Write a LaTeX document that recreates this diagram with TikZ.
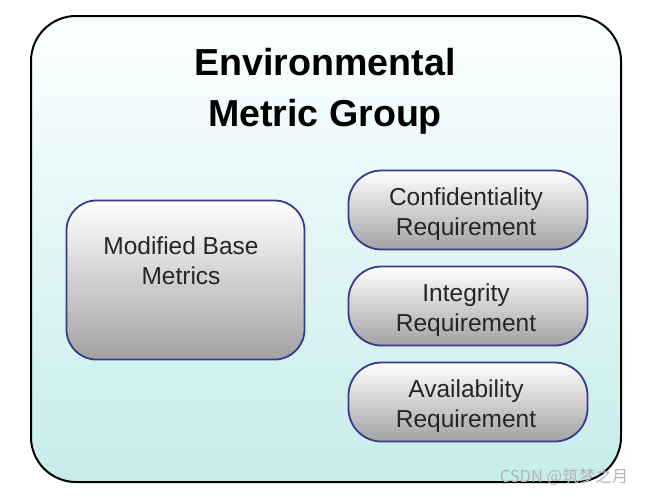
\documentclass[tikz,border=0pt]{standalone}
\usepackage{fontspec}
\setmainfont{Liberation Sans}
\newfontfamily\cjk{Noto Sans CJK SC}
\definecolor{outerbot}{RGB}{198,236,236}
\definecolor{outertop}{RGB}{252,255,255}
\definecolor{boxedge}{RGB}{58,58,140}
\definecolor{boxbot}{RGB}{162,162,162}
\definecolor{wm}{RGB}{180,180,180}
\tikzset{
  outerbox/.style={draw=black, line width=2pt, rounded corners=45pt, top color=outertop, bottom color=outerbot, minimum width=590pt, minimum height=466pt, inner sep=0pt},
  metricbox/.style={draw=boxedge, line width=1.8pt, top color=white, bottom color=boxbot, inner sep=0pt},
  boxtext/.style={font=\fontsize{24.5}{30}\selectfont, align=center, text=black!85, inner sep=0pt},
}
\begin{document}
\begin{tikzpicture}[x=1pt,y=-1pt]
\useasboundingbox (0,0) rectangle (646,496);
\node[outerbox] (outer) at (326,249) {};
\node[font=\fontsize{37.6}{51}\selectfont\bfseries, align=center, inner sep=0pt] (title) at (325,91) {Environmental\\Metric Group};
\node[metricbox, rounded corners=30pt, minimum width=238pt, minimum height=159pt] (mb) at (185.5,280) {};
\node[boxtext] (mbt) at (181,261) {Modified Base\\Metrics};
\node[metricbox, rounded corners=33pt, minimum width=239pt, minimum height=79pt] (cr) at (468,210) {};
\node[boxtext] (crt) at (466,214.5) {Confidentiality\\Requirement};
\node[metricbox, rounded corners=33pt, minimum width=239pt, minimum height=79pt] (ir) at (468,306) {};
\node[boxtext] (irt) at (466,310.5) {Integrity\\Requirement};
\node[metricbox, rounded corners=33pt, minimum width=239pt, minimum height=79pt] (ar) at (468,402) {};
\node[boxtext] (art) at (466,406.5) {Availability\\Requirement};
\node[font=\cjk\fontsize{16.5}{16.5}\selectfont, text=wm, inner sep=0pt] (wmk) at (564,477) {CSDN @筑梦之月};
\end{tikzpicture}
\end{document}
